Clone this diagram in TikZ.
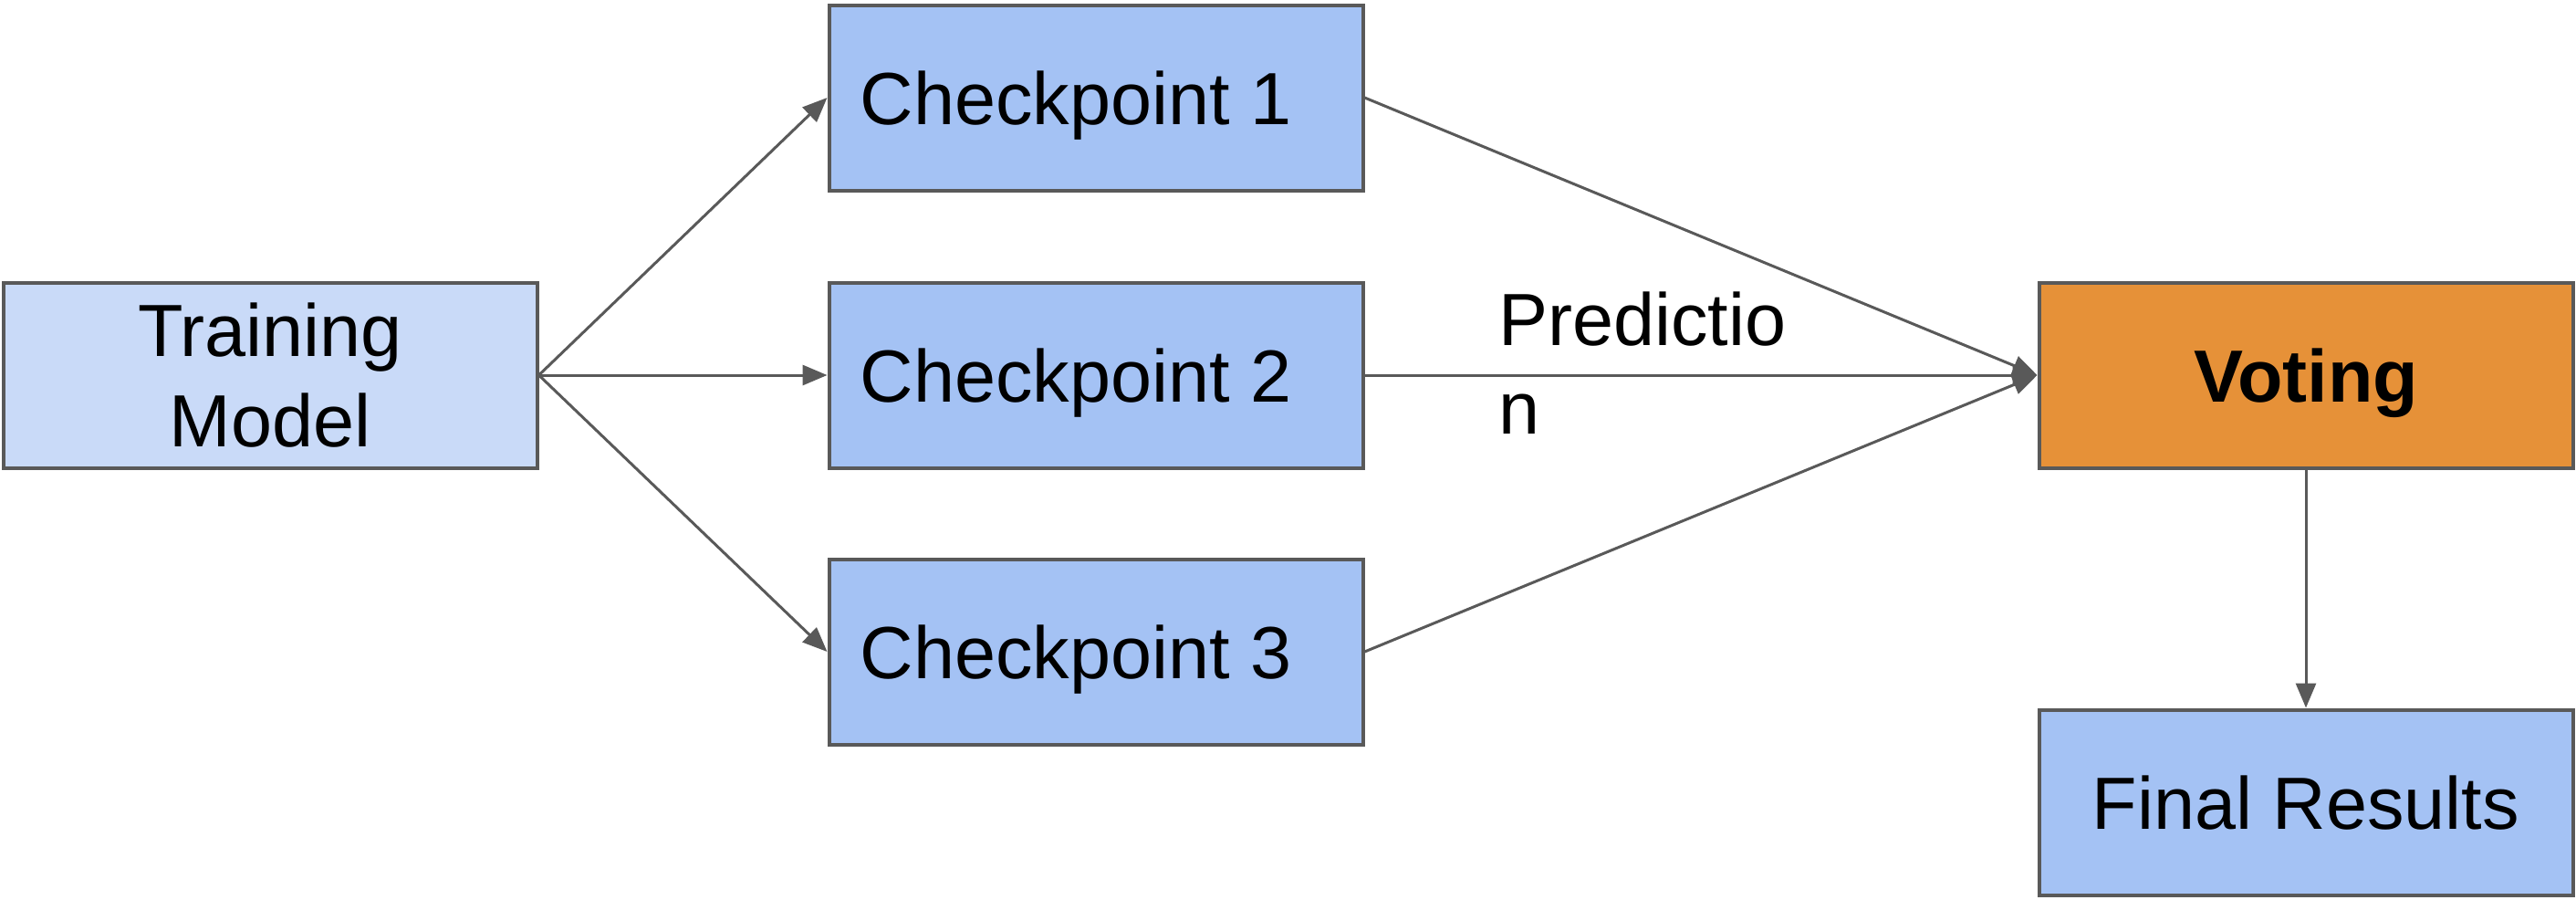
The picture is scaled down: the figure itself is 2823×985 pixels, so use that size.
\documentclass[tikz,border=0pt]{standalone}
\usepackage{fontspec}
\setmainfont{Liberation Sans}
\usetikzlibrary{arrows.meta}
\definecolor{lineg}{HTML}{595959}
\definecolor{lightblue}{HTML}{C9DAF8}
\definecolor{midblue}{HTML}{A4C2F4}
\definecolor{voteorange}{HTML}{E69138}
\begin{document}
\begin{tikzpicture}[x=1pt,y=-1pt,
  box/.style={draw=lineg, line width=4pt, minimum width=585pt, minimum height=203pt,
    inner sep=0pt, text depth=0pt, font=\fontsize{81}{99}\selectfont, align=center},
  conn/.style={draw=lineg, line width=3pt, -{Triangle[length=27pt,width=22pt]}},
  lbl/.style={font=\fontsize{81}{97}\selectfont, align=left, inner sep=0pt}]
\useasboundingbox (0,0) rectangle (2823,985);
\node[box, fill=lightblue] (train) at (296,411) {Training\\Model};
\node[box, fill=midblue] (c1) at (1201,107) {Checkpoint 1\hspace*{44pt}};
\node[box, fill=midblue] (c2) at (1201,411) {Checkpoint 2\hspace*{44pt}};
\node[box, fill=midblue] (c3) at (1201,714) {Checkpoint 3\hspace*{44pt}};
\node[box, fill=voteorange, font=\fontsize{81}{99}\selectfont\bfseries] (vote) at (2527,411) {Voting};
\node[box, fill=midblue] (final) at (2527,879) {Final Results};
\draw[conn] (train.east) -- (c1.west);
\draw[conn] (train.east) -- (c2.west);
\draw[conn] (train.east) -- (c3.west);
\draw[conn] (c1.east) -- (vote.west);
\draw[conn] (c2.east) -- (vote.west);
\draw[conn] (c3.east) -- (vote.west);
\draw[conn] (vote.south) -- (final.north);
\node[lbl, anchor=north west] (pred) at (1642,320) {Predictio\\n};
\end{tikzpicture}
\end{document}
